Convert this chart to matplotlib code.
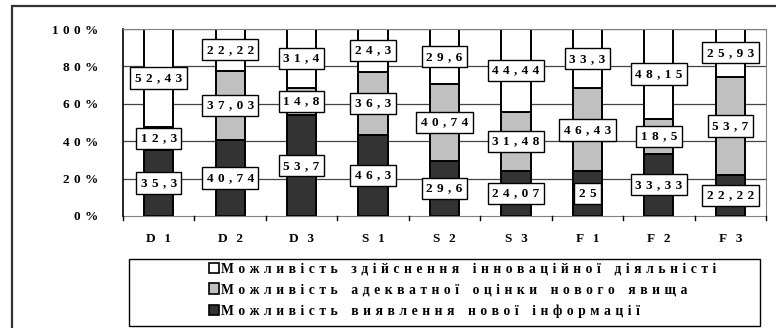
import matplotlib
matplotlib.use("Agg")
import matplotlib.pyplot as plt
import matplotlib.patches as mpatches
import numpy as np

plt.rcParams['font.family'] = ['Liberation Serif', 'DejaVu Serif']
plt.rcParams['font.weight'] = 'bold'

categories = ["D1", "D2", "D3", "S1", "S2", "S3", "F1", "F2", "F3"]
info = [35.3, 40.74, 53.7, 46.3, 29.6, 24.07, 25, 33.33, 22.22]
assess = [12.3, 37.03, 14.8, 36.3, 40.74, 31.48, 46.43, 18.5, 53.7]
innov = [52.43, 22.22, 31.4, 24.3, 29.6, 44.44, 33.3, 48.15, 25.93]

series_names = [
    "Можливість здійснення інноваційної діяльністі",
    "Можливість адекватної оцінки нового явища",
    "Можливість виявлення нової інформації",
]
colors = {"innov": "white", "assess": "#c0c0c0", "info": "#333333"}

GAP = "\u2004"  # three-per-em space for letter spacing


def spaced(s, word_gap=3):
    # letter-spaced text, wider gap between words
    return (GAP * word_gap).join(GAP.join(w) for w in s.split(" "))


def fmt(v):
    return spaced(f"{v:g}".replace(".", ","))


W, H = 776, 328
FS = 9.5
fig = plt.figure(figsize=(W / 100, H / 100), dpi=100)

# outer frame
fig.patches.append(mpatches.Rectangle((12 / W, -0.05), 1.1, (H - 6) / H + 0.05,
                                      transform=fig.transFigure, fill=False,
                                      ec="#333333", lw=1.6))

ax = fig.add_axes([123 / W, (H - 216) / H, 643 / W, 187 / H])

data = np.array([info, assess, innov])
totals = data.sum(axis=0)
pct = data / totals * 100
x = np.arange(len(categories))
bw = 0.41

for y in [20, 40, 60, 80, 100]:
    ax.axhline(y, color="#444444", lw=0.9, zorder=1)

bottom = np.zeros(len(categories))
for row, key in zip(pct, ["info", "assess", "innov"]):
    ax.bar(x, row, bw, bottom=bottom, color=colors[key], edgecolor="black",
           linewidth=1.4, zorder=2)
    bottom += row

# value labels at segment centres
bottom = np.zeros(len(categories))
for vals, row in zip(data, pct):
    for i in range(len(categories)):
        ax.text(x[i], bottom[i] + row[i] / 2, fmt(vals[i]), ha="center", va="center",
                fontsize=FS, fontweight="bold", zorder=4,
                bbox=dict(boxstyle="square,pad=0.35", fc="white", ec="black", lw=1))
    bottom += row

ax.set_xlim(-0.5, len(categories) - 0.5)
ax.set_ylim(0, 100)
ax.set_yticks([0, 20, 40, 60, 80, 100])
ax.set_yticklabels([spaced(f"{t}%") for t in [0, 20, 40, 60, 80, 100]],
                   fontsize=FS, fontweight="bold")
ax.tick_params(axis="y", length=0, pad=18)
ax.set_xticks(x)
ax.set_xticklabels([c[0] + GAP * 2 + c[1] for c in categories],
                   fontsize=FS, fontweight="bold")
ax.tick_params(axis="x", length=0, pad=12)
for b in np.arange(-0.5, len(categories), 1.0):
    ax.plot([b, b], [0, -2.2], color="black", lw=1, clip_on=False, zorder=3)

for s in ["top", "right"]:
    ax.spines[s].set_color("#808080")
ax.spines["left"].set_color("black")
ax.spines["bottom"].set_color("#808080")
ax.spines["left"].set_linewidth(1.2)

# legend box
fig.patches.append(mpatches.Rectangle((129 / W, (H - 326) / H), 631 / W, 67 / H,
                                      transform=fig.transFigure, fill=False,
                                      ec="black", lw=1))
handles = [mpatches.Patch(fc=colors[k], ec="black", lw=1.2)
           for k in ["innov", "assess", "info"]]
fig.legend(handles, [spaced(n) for n in series_names], loc="upper left",
           bbox_to_anchor=(199 / W, (H - 253) / H), frameon=False,
           prop=dict(size=9.8, weight="bold"), handlelength=0.8, handleheight=0.8,
           handletextpad=0.15, labelspacing=0.58, borderpad=0.2)

fig.savefig("out.png", dpi=100)
